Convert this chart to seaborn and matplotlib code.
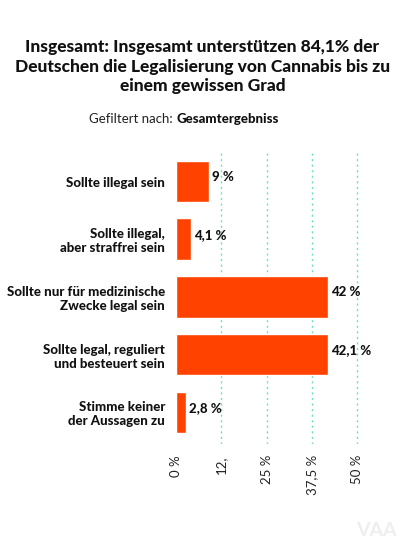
import matplotlib
matplotlib.use("Agg")
import matplotlib.pyplot as plt
import seaborn as sns
import pandas as pd

categories = [
    "Sollte illegal sein",
    "Sollte illegal,\naber straffrei sein",
    "Sollte nur für medizinische\nZwecke legal sein",
    "Sollte legal, reguliert\nund besteuert sein",
    "Stimme keiner\nder Aussagen zu",
]
values = [9.0, 4.1, 42.0, 42.1, 2.8]
value_labels = ["9 %", "4,1 %", "42 %", "42,1 %", "2,8 %"]
tick_values = [0, 12.5, 25, 37.5, 50]
tick_labels = ["0 %", "12,", "25 %", "37,5 %", "50 %"]

df = pd.DataFrame({"antwort": categories, "anteil": values})

sns.set_theme(style="white")
plt.rcParams["font.family"] = ["Lato", "DejaVu Sans"]

fig = plt.figure(figsize=(4.05, 5.55), dpi=100)
ax = fig.add_axes([0.435, 0.2, 0.455, 0.53])

sns.barplot(data=df, x="anteil", y="antwort", color="#ff4200", saturation=1,
            width=0.72, orient="h", ax=ax)

for i, (v, lab) in enumerate(zip(values, value_labels)):
    ax.text(v + 0.8, i - 0.08, lab, va="center", ha="left", fontsize=9.5,
            fontweight="black", color="#111111")

for t in tick_values[1:]:
    ax.axvline(t, color="#6fdcc4", linestyle=(0, (1.5, 2.5)), linewidth=1, zorder=0)

ax.set_xlim(0, 51)
ax.set_ylim(4.55, -0.55)
ax.set_xticks(tick_values)
ax.set_xticklabels(tick_labels, rotation=90, fontsize=9.5, color="#222222")
ax.tick_params(axis="x", length=0, pad=8)
ax.tick_params(axis="y", length=0, pad=8)
for lab in ax.get_yticklabels():
    lab.set_fontweight("black")
    lab.set_fontsize(9.5)
    lab.set_color("#111111")
    lab.set_horizontalalignment("right")
    lab.set_multialignment("right")
ax.set_xlabel("")
ax.set_ylabel("")
sns.despine(ax=ax, left=True, bottom=True)

fig.text(0.5, 0.88, "Insgesamt: Insgesamt unterstützen 84,1% der\n"
         "Deutschen die Legalisierung von Cannabis bis zu\neinem gewissen Grad",
         ha="center", va="center", fontsize=12.5, fontweight="black",
         color="#111111", linespacing=1.25)
fig.text(0.435, 0.785, "Gefiltert nach: ", ha="right", va="center",
         fontsize=9.5, color="#222222")
fig.text(0.435, 0.785, "Gesamtergebniss", ha="left", va="center",
         fontsize=9.5, fontweight="black", color="#111111")
fig.text(0.93, 0.045, "VAA", ha="center", va="center", fontsize=14,
         fontweight="bold", color="#eeeeee")

fig.savefig("out.png", dpi=100, facecolor="white")
